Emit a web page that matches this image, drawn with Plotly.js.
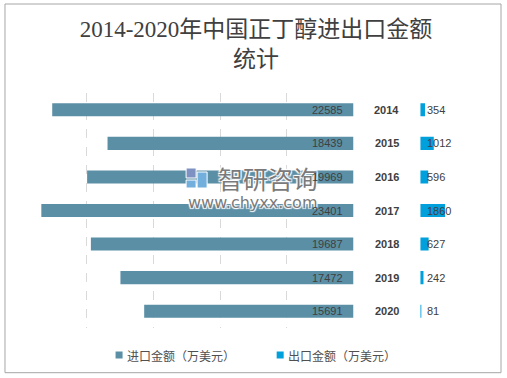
<!DOCTYPE html>
<html>
<head>
<meta charset="utf-8">
<script src="https://cdn.plot.ly/plotly-3.0.1.min.js"></script>
<style>
html,body{margin:0;padding:0;background:#fff;}
#chart{width:507px;height:378px;}
</style>
</head>
<body>
<div id="chart"></div>
<script>
// ---- data ----
const years = ['2014', '2015', '2016', '2017', '2018', '2019', '2020'];
const importValues = [22585, 18439, 19969, 23401, 19687, 17472, 15691];
const exportValues = [354, 1012, 596, 1860, 627, 242, 81];
const importName = '进口金额（万美元）';
const exportName = '出口金额（万美元）';
const titleText = '2014-2020年中国正丁醇进出口金额<br>统计';

// ---- styles ----
const importColor = '#5b8fa6';
const exportColor = '#00a0dc';
const textColor = '#404040';
const numFont = 'Liberation Sans, Noto Sans CJK SC, sans-serif';
const halo = '1px 1px 1px #ffffff, -1px -1px 1px #ffffff, 1px -1px 1px #ffffff, -1px 1px 1px #ffffff';

const W = 507, H = 378;
const margin = {l: 20, r: 20.3, t: 93, b: 50};
const plotW = W - margin.l - margin.r;
const plotH = H - margin.t - margin.b;
const px = v => (v - margin.l) / plotW;           // pixel -> paper x
const py = v => (H - margin.b - v) / plotH;       // pixel -> paper y

const traces = [
  {
    type: 'bar', orientation: 'h', name: importName,
    y: years, x: importValues, xaxis: 'x', yaxis: 'y',
    marker: {color: importColor}, showlegend: false
  },
  {
    type: 'bar', orientation: 'h', name: exportName,
    y: years, x: exportValues, xaxis: 'x2', yaxis: 'y',
    marker: {color: exportColor}, showlegend: false
  }
];

const annotations = [];
// watermark (drawn first so the value labels sit on top)
annotations.push({
  xref: 'paper', yref: 'paper', x: px(268), y: py(178), text: '智研咨询',
  showarrow: false, xanchor: 'center', yanchor: 'middle',
  font: {family: 'Noto Sans CJK SC, sans-serif', size: 25, color: '#7a7a7a', shadow: halo}
});
annotations.push({
  xref: 'paper', yref: 'paper', x: px(252), y: py(202), text: 'www.chyxx.com',
  showarrow: false, xanchor: 'center', yanchor: 'middle',
  font: {family: 'DejaVu Sans, sans-serif', size: 16, color: '#7a7a7a', shadow: halo}
});

years.forEach((yr, i) => {
  annotations.push({
    xref: 'x', yref: 'y', x: 0, y: i, text: String(importValues[i]),
    xanchor: 'right', yanchor: 'middle', xshift: -9, showarrow: false,
    font: {family: numFont, size: 11, color: textColor}
  });
  annotations.push({
    xref: 'paper', yref: 'y', x: px(386.7), y: i, text: '<b>' + yr + '</b>',
    xanchor: 'center', yanchor: 'middle', showarrow: false,
    font: {family: numFont, size: 11, color: textColor}
  });
  annotations.push({
    xref: 'x2', yref: 'y', x: 0, y: i, text: String(exportValues[i]),
    xanchor: 'left', yanchor: 'middle', xshift: 5, showarrow: false,
    font: {family: numFont, size: 11, color: textColor}
  });
});

// legend (drawn by hand to match the reference spacing)
const legendItems = [
  {name: importName, color: importColor, markerX: 119},
  {name: exportName, color: exportColor, markerX: 280}
];
const legendY = 355;
const shapes = [
  {type: 'rect', xref: 'paper', yref: 'paper', x0: px(5), x1: px(500.7), y0: py(372.7), y1: py(4),
   line: {color: '#a6a6a6', width: 1}, fillcolor: 'rgba(0,0,0,0)', layer: 'below'}
];
legendItems.forEach(it => {
  shapes.push({type: 'rect', xref: 'paper', yref: 'paper',
    x0: px(it.markerX - 3.5), x1: px(it.markerX + 3.5), y0: py(legendY + 3.5), y1: py(legendY - 3.5),
    line: {width: 0}, fillcolor: it.color});
  annotations.push({xref: 'paper', yref: 'paper', x: px(it.markerX + 6), y: py(legendY),
    text: it.name, xanchor: 'left', yanchor: 'middle', showarrow: false,
    font: {family: 'Noto Sans CJK SC, sans-serif', size: 12, color: '#505050'}});
});

// watermark logo
shapes.push(
  {type: 'rect', xref: 'paper', yref: 'paper', x0: px(186), x1: px(196), y0: py(178), y1: py(168),
   line: {color: '#ffffff', width: 1}, fillcolor: 'rgb(125,145,195)'},
  {type: 'rect', xref: 'paper', yref: 'paper', x0: px(197), x1: px(207), y0: py(188), y1: py(172),
   line: {color: '#ffffff', width: 1}, fillcolor: 'rgb(115,175,220)'},
  {type: 'rect', xref: 'paper', yref: 'paper', x0: px(186), x1: px(196), y0: py(188), y1: py(180),
   line: {color: '#ffffff', width: 1}, fillcolor: 'rgb(115,175,220)'}
);

const gridStyle = {showgrid: true, gridcolor: '#d9d9d9', griddash: 'dash', gridwidth: 1,
  zeroline: false, showticklabels: false, ticks: '', showline: false, fixedrange: true};

const layout = {
  width: W, height: H, margin: margin,
  paper_bgcolor: '#ffffff', plot_bgcolor: '#ffffff',
  title: {
    text: titleText, x: 0.505, xref: 'container', xanchor: 'center',
    y: 1 - 37 / H, yref: 'container', yanchor: 'middle',
    font: {family: 'Liberation Serif, Noto Sans CJK SC, serif', size: 23, color: '#404040'}
  },
  xaxis: Object.assign({domain: [0, px(353.3)], range: [25000, 0], dtick: 5000, tick0: 0, anchor: 'y'}, gridStyle),
  xaxis2: Object.assign({domain: [px(420), 1], range: [0, 5000], dtick: 5000, tick0: 0, anchor: 'y'}, gridStyle),
  yaxis: {type: 'category', categoryorder: 'array', categoryarray: years,
          range: [years.length - 0.5, -0.5], autorange: false,
          showgrid: false, zeroline: false, showticklabels: false, ticks: '', showline: false,
          fixedrange: true, anchor: 'x'},
  bargap: 0.61,
  showlegend: false,
  annotations: annotations,
  shapes: shapes,
  hovermode: false
};

Plotly.newPlot('chart', traces, layout, {displayModeBar: false, staticPlot: true});
</script>
</body>
</html>
